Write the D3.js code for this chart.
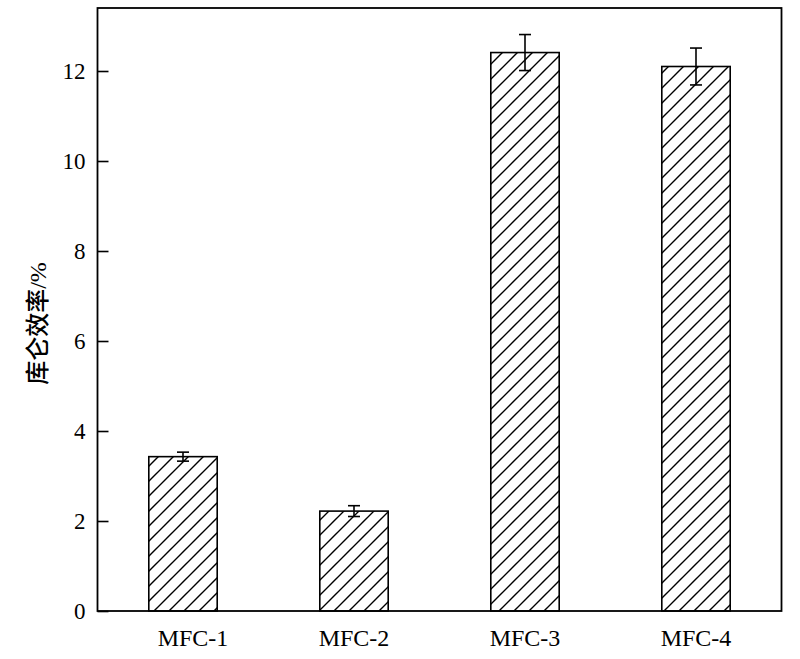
<!DOCTYPE html>
<html>
<head>
<meta charset="utf-8">
<script src="https://cdn.jsdelivr.net/npm/d3@7"></script>
<style>
  html, body { margin: 0; padding: 0; background: #fff; }
  svg { display: block; }
</style>
</head>
<body>
<svg id="chart" width="800" height="659"></svg>
<script>
const categories = ["MFC-1", "MFC-2", "MFC-3", "MFC-4"];
const values = [3.43, 2.22, 12.41, 12.10];
const errors = [0.10, 0.12, 0.40, 0.41];
const yTicks = [0, 2, 4, 6, 8, 10, 12];
const yLabelCJK = "库仑效率";
const yLabelUnit = "/%";

const svg = d3.select("#chart");
const pLeft = 97.5, pRight = 781.5, pTop = 8, pBottom = 611;

const x = d3.scaleBand().domain(categories).range([pLeft, pRight]).paddingInner(0.6).paddingOuter(0.3);
const y = d3.scaleLinear().domain([0, 13.4]).range([pBottom, pTop]);

const defs = svg.append("defs");
const pat = defs.append("pattern")
  .attr("id", "hatch").attr("patternUnits", "userSpaceOnUse")
  .attr("width", 15).attr("height", 15);
pat.append("path")
  .attr("d", "M-2,2 L2,-2 M0,15 L15,0 M13,17 L17,13")
  .attr("stroke", "#000").attr("stroke-width", 1.4);

const serif = "'Liberation Serif', 'Times New Roman', serif";

// bars
svg.append("g").selectAll("rect").data(categories).join("rect")
  .attr("x", d => x(d))
  .attr("y", (d, i) => y(values[i]))
  .attr("width", x.bandwidth())
  .attr("height", (d, i) => y(0) - y(values[i]))
  .attr("fill", "url(#hatch)")
  .attr("stroke", "#000").attr("stroke-width", 1.6);

// error bars
const eg = svg.append("g").attr("stroke", "#000").attr("stroke-width", 1.6);
categories.forEach((c, i) => {
  const cx = x(c) + x.bandwidth() / 2;
  const y1 = y(values[i] + errors[i]), y2 = y(values[i] - errors[i]);
  eg.append("line").attr("x1", cx).attr("x2", cx).attr("y1", y1).attr("y2", y2);
  eg.append("line").attr("x1", cx - 6).attr("x2", cx + 6).attr("y1", y1).attr("y2", y1);
  eg.append("line").attr("x1", cx - 6).attr("x2", cx + 6).attr("y1", y2).attr("y2", y2);
});

// y axis
const yAxis = d3.axisLeft(y).tickValues(yTicks).tickSize(-11).tickPadding(12).tickFormat(d3.format("d"));
const ya = svg.append("g").attr("transform", `translate(${pLeft},0)`).call(yAxis);
ya.select(".domain").remove();
ya.selectAll(".tick line").attr("stroke", "#000").attr("stroke-width", 1.6);
ya.selectAll(".tick text").attr("font-family", serif).attr("font-size", 23).attr("fill", "#000");

// x axis
const xAxis = d3.axisBottom(x).tickSize(0).tickPadding(18);
const xa = svg.append("g").attr("transform", `translate(0,${pBottom})`).call(xAxis);
xa.select(".domain").remove();
xa.selectAll(".tick text").attr("font-family", serif).attr("font-size", 24).attr("fill", "#000")
  .attr("dx", (d, i) => i === 0 ? 10 : 0);

// frame
svg.append("rect").attr("x", pLeft).attr("y", pTop).attr("width", pRight - pLeft).attr("height", pBottom - pTop)
  .attr("fill", "none").attr("stroke", "#000").attr("stroke-width", 1.8);

// y label
const yl = svg.append("text")
  .attr("transform", `translate(46,${(pTop + pBottom) / 2 + 14}) rotate(-90)`)
  .attr("text-anchor", "middle")
  .attr("font-size", 24).attr("fill", "#000");
yl.append("tspan").attr("font-family", "'Noto Sans CJK SC', sans-serif").attr("font-weight", 500).text(yLabelCJK);
yl.append("tspan").attr("font-family", serif).text(yLabelUnit);
</script>
</body>
</html>
